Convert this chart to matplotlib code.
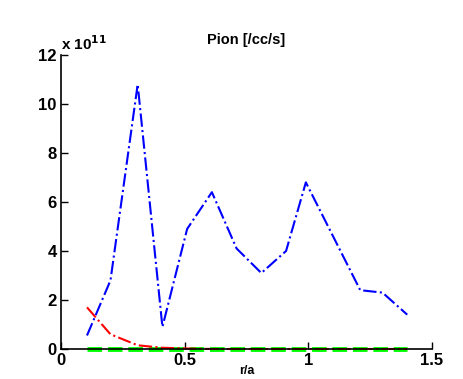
import numpy as np
import matplotlib
matplotlib.use('Agg')
import matplotlib.pyplot as plt

plt.rcParams['font.family'] = ['Liberation Sans', 'DejaVu Sans']
plt.rcParams['font.weight'] = 'bold'

## data (units of 1e11)
r = [0.105, 0.2, 0.31, 0.41, 0.51, 0.61, 0.71, 0.81, 0.91, 0.99, 1.1, 1.21, 1.3, 1.4]
blue = [0.55, 2.8, 10.8, 0.9, 4.9, 6.4, 4.1, 3.1, 4.0, 6.8, 4.6, 2.4, 2.3, 1.4]
red = [1.7, 0.6, 0.15, 0.05, 0.02, 0.0, 0.0, 0.0, 0.0, 0.0, 0.0, 0.0, 0.0, 0.0]
green = [0.0] * 14

fig = plt.figure(figsize=(4.63, 3.79), dpi=100)
ax = fig.add_axes([0.1318, 0.0792, 0.8012, 0.7758])

ax.plot(r, green, color='#00ff00', linestyle='--', linewidth=3.5, dashes=(3, 1.2),
        clip_on=False)
ax.plot(r, red, color='red', linestyle='-.', linewidth=1.5, clip_on=False)
ax.plot(r, blue, color='blue', linestyle='-.', linewidth=1.5)

ax.set_xlim(0, 1.5)
ax.set_ylim(0, 12)
ax.set_xticks([0, 0.5, 1, 1.5])
ax.set_xticklabels(['0', '0.5', '1', '1.5'])
ax.set_yticks([0, 2, 4, 6, 8, 10, 12])
ax.spines['top'].set_visible(False)
ax.spines['right'].set_visible(False)
ax.spines['left'].set_linewidth(1.2)
ax.spines['bottom'].set_linewidth(1.2)
ax.tick_params(direction='in', length=5, width=1, labelsize=12, pad=3)
for lab in ax.get_xticklabels() + ax.get_yticklabels():
    lab.set_fontweight('bold')

ax.set_title('Pion [/cc/s]', fontsize=10.5, fontweight='bold', pad=8)
ax.text(0.0, 1.005, r'x 10$^{\mathbf{11}}$', transform=ax.transAxes, fontsize=11,
        fontweight='bold', ha='left', va='bottom')
ax.set_xlabel('r/a', fontsize=9, fontweight='bold', labelpad=-2)

fig.savefig('out.png', dpi=100)
